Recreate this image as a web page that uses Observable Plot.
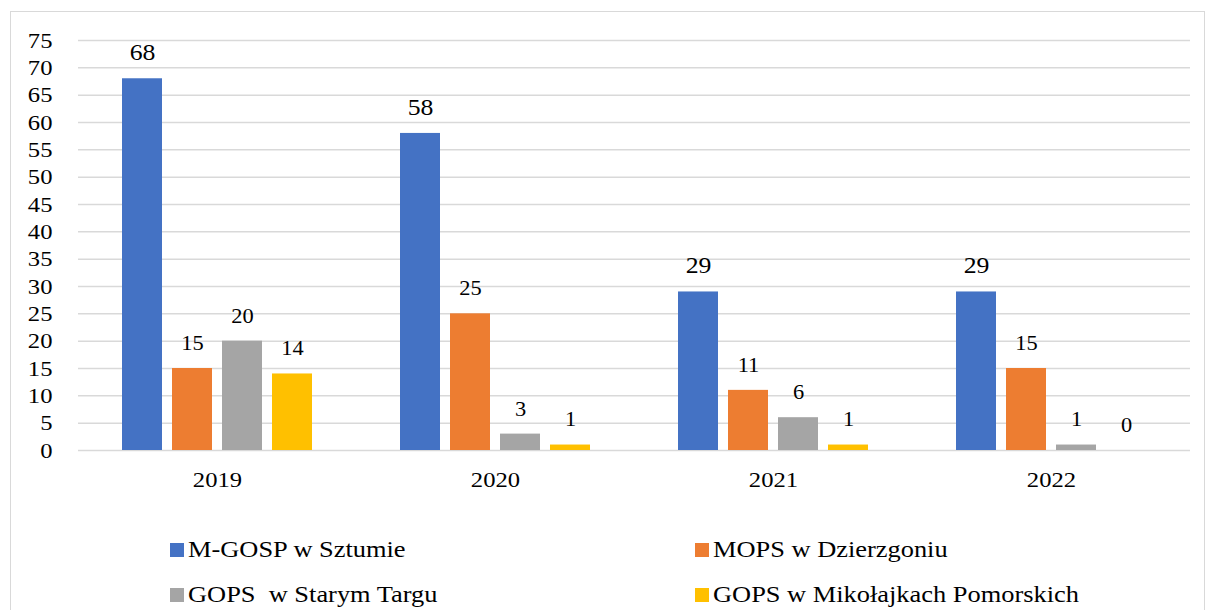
<!DOCTYPE html>
<html>
<head>
<meta charset="utf-8">
<script src="https://cdn.jsdelivr.net/npm/d3@7"></script>
<script src="https://cdn.jsdelivr.net/npm/@observablehq/plot@0.6"></script>
<style>
  html, body { margin: 0; padding: 0; background: #fff; width: 1206px; height: 610px; overflow: hidden; }
  #wrap { position: relative; width: 1206px; height: 610px; }
  #frame { position: absolute; left: 10px; top: 11px; width: 1195px; height: 640px; border: 1px solid #d9d9d9; box-sizing: border-box; }
  #chart { position: absolute; left: 0; top: 0; }
  .leg { position: absolute; font-family: "Liberation Serif", "Times New Roman", serif; font-size: 24px; color: #000; white-space: pre; line-height: 24px; }
  .sw { display: inline-block; width: 14px; height: 14px; margin-right: 4px; vertical-align: baseline; }
  .lt { display: inline-block; transform: scaleX(1.1); transform-origin: left center; }
</style>
</head>
<body>
<div id="wrap">
  <div id="frame"></div>
  <div id="chart"></div>
  <div id="legend"></div>
</div>
<script>
const years = ["2019", "2020", "2021", "2022"];
const series = ["M-GOSP w Sztumie", "MOPS w Dzierzgoniu", "GOPS  w Starym Targu", "GOPS w Mikołajkach Pomorskich"];
const colors = ["#4472C4", "#ED7D31", "#A5A5A5", "#FFC000"];
const mgospValues = [68, 58, 29, 29];
const mopsValues = [15, 25, 11, 15];
const starytargValues = [20, 3, 6, 1];
const mikolajkiValues = [14, 1, 1, 0];
const yTicks = [0, 5, 10, 15, 20, 25, 30, 35, 40, 45, 50, 55, 60, 65, 70, 75];

const allValues = [mgospValues, mopsValues, starytargValues, mikolajkiValues];
const data = [];
years.forEach((yr, i) => {
  series.forEach((s, j) => {
    data.push({ year: yr, series: s, value: allValues[j][i] });
  });
});

const SERIF = '"Liberation Serif", "Times New Roman", serif';
const SANS = 'Lato, "Open Sans", sans-serif';

const plot = Plot.plot({
  width: 1206,
  height: 500,
  marginLeft: 77,
  marginRight: 16,
  marginTop: 40,
  marginBottom: 50,
  fx: { domain: years, padding: 0, label: null },
  x: { domain: series, paddingInner: 0.21, paddingOuter: 0.845, axis: null },
  y: { domain: [0, 75], ticks: yTicks, label: null },
  color: { domain: series, range: colors },
  style: { background: "transparent" },
  marks: [
    Plot.gridY(yTicks, { stroke: "#d9d9d9", strokeWidth: 1.5, strokeOpacity: 1 }),
    Plot.axisY(yTicks, { tickSize: 0, tickPadding: 26, fontSize: 22, fontFamily: SERIF, label: null, fill: "#000" }),
    Plot.axisFx({ anchor: "bottom", tickSize: 0, tickPadding: 21, fontSize: 22, fontFamily: SERIF, label: null, fill: "#000" }),
    Plot.barY(data, { fx: "year", x: "series", y: "value", fill: "series" }),
    Plot.text(data.filter(d => d.series === series[0]), {
      fx: "year", x: "series", y: "value", text: d => String(d.value),
      dy: -26, fontSize: 23, fontFamily: SERIF, fill: "#000", ariaLabel: "serif-text"
    }),
    Plot.text(data.filter(d => d.series !== series[0]), {
      fx: "year", x: "series", y: "value", text: d => String(d.value),
      dy: -25, fontSize: 20, fontFamily: SANS, fill: "#000", ariaLabel: "sans-text"
    })
  ]
});
document.getElementById("chart").appendChild(plot);

// Font assignment and the slight horizontal stretch of the serif text in the reference
function stretch(el, s) {
  const x = parseFloat(el.getAttribute("x")) || 0;
  const tr = el.getAttribute("transform") || "";
  el.setAttribute("transform", `${tr} translate(${x},0) scale(${s},1) translate(${-x},0)`);
}
d3.select(plot).selectAll("text").each(function () {
  if (this.closest('g[aria-label="sans-text"]')) {
    this.style.fontFamily = SANS;
  } else {
    this.style.fontFamily = SERIF;
    stretch(this, 1.12);
  }
});

const legend = document.getElementById("legend");
const legPos = [[170, 537], [695, 537], [170, 582], [695, 582]];
series.forEach((s, i) => {
  const el = document.createElement("div");
  el.className = "leg";
  el.style.left = legPos[i][0] + "px";
  el.style.top = legPos[i][1] + "px";
  const sw = document.createElement("span");
  sw.className = "sw";
  sw.style.background = colors[i];
  el.appendChild(sw);
  const t = document.createElement("span");
  t.className = "lt";
  t.textContent = s;
  el.appendChild(t);
  legend.appendChild(el);
});
</script>
</body>
</html>
